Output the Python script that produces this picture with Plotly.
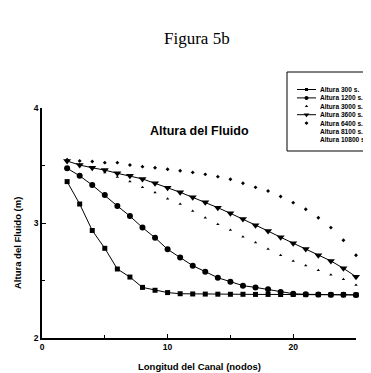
import plotly.graph_objects as go

nodes = list(range(2, 26))

h300 = [3.36, 3.165, 2.935, 2.78, 2.60, 2.53, 2.44, 2.415, 2.395, 2.385, 2.383, 2.382,
        2.381, 2.380, 2.380, 2.379, 2.379, 2.378, 2.378, 2.377, 2.377, 2.376, 2.376, 2.375]
h1200 = [3.476, 3.41, 3.33, 3.243, 3.148, 3.06, 2.96, 2.872, 2.771, 2.70, 2.629, 2.577,
         2.524, 2.49, 2.455, 2.44, 2.423, 2.40, 2.385, 2.38, 2.378, 2.377, 2.376, 2.375]
h3000 = [3.54, 3.51, 3.48, 3.44, 3.40, 3.36, 3.31, 3.265, 3.21, 3.165, 3.105, 3.046,
         2.99, 2.94, 2.88, 2.83, 2.775, 2.72, 2.67, 2.63, 2.59, 2.55, 2.51, 2.46]
h3600 = [3.539, 3.504, 3.48, 3.46, 3.432, 3.41, 3.383, 3.345, 3.307, 3.267, 3.223, 3.18,
         3.133, 3.084, 3.035, 2.98, 2.93, 2.876, 2.823, 2.774, 2.72, 2.67, 2.606, 2.533]
h6400 = [3.55, 3.54, 3.535, 3.525, 3.525, 3.505, 3.49, 3.48, 3.467, 3.455, 3.44, 3.423,
         3.403, 3.38, 3.345, 3.31, 3.278, 3.23, 3.177, 3.12, 3.046, 2.96, 2.85, 2.72]

names = ["Altura 300 s.", "Altura 1200 s.", "Altura 3000 s.", "Altura 3600 s.",
         "Altura 6400 s.", "Altura 8100 s.", "Altura 10800 s."]
x_ticks = [0, 10, 20]
y_ticks = [2, 3, 4]

# the page body has an 8px margin; figure fills the rest of the 371x373 window
OFF = 8
W, H = 371 - OFF, 373 - OFF
# plot area in screen pixels
L, R, T, B = 42, 356, 108, 338

def fx(p):
    return (p - OFF) / W

def fy(p):
    return 1 - (p - OFF) / H

styles = [
    dict(mode="lines+markers", symbol="square", size=5),
    dict(mode="lines+markers", symbol="circle", size=6),
    dict(mode="markers", symbol="triangle-up", size=3),
    dict(mode="lines+markers", symbol="triangle-down", size=7),
    dict(mode="markers", symbol="diamond", size=3),
]
series = [h300, h1200, h3000, h3600, h6400]

fig = go.Figure()
for vals, st, nm in zip(series, styles, names):
    fig.add_trace(go.Scatter(x=nodes, y=vals, name=nm, mode=st["mode"],
                             line=dict(color="black", width=1),
                             marker=dict(symbol=st["symbol"], size=st["size"], color="black"),
                             cliponaxis=False, showlegend=False))

# compact legend drawn on an overlay axis in screen-pixel units
ly0, ldy = 89.5, 8.4
for i, nm in enumerate(names):
    yy = ly0 + i * ldy
    if i < len(styles):
        st = styles[i]
        if "lines" in st["mode"]:
            fig.add_trace(go.Scatter(x=[297, 316], y=[yy, yy], mode="lines",
                                     line=dict(color="black", width=1),
                                     xaxis="x2", yaxis="y2", showlegend=False, hoverinfo="skip"))
        fig.add_trace(go.Scatter(x=[306.5], y=[yy], mode="markers",
                                 marker=dict(symbol=st["symbol"], size=max(3, st["size"] - 2), color="black"),
                                 xaxis="x2", yaxis="y2", showlegend=False, hoverinfo="skip"))

bold = dict(family="Liberation Sans, Arial", color="black", weight="bold")

def ann(text, x, y, font, **kw):
    d = dict(text=text, x=fx(x), y=fy(y), xref="paper", yref="paper", showarrow=False,
             xanchor="center", yanchor="middle", font=font)
    d.update(kw)
    return d

annotations = [
    ann("Figura 5b", 197, 38, dict(family="Liberation Serif, Times New Roman", size=17, color="black")),
    ann("Altura del Fluido", 199, 131, dict(size=12.5, **bold)),
    ann("Longitud del Canal (nodos)", 199, 366, dict(size=9.5, **bold)),
    ann("Altura del Fluido (m)", 17, 243, dict(size=9.5, **bold), textangle=-90),
]
for i, nm in enumerate(names):
    annotations.append(dict(text=nm, x=318, y=ly0 + i * ldy, xref="x2", yref="y2",
                            xanchor="left", yanchor="middle", showarrow=False,
                            font=dict(family="Liberation Sans Narrow, Liberation Sans", size=6.6,
                                      color="black", weight="bold")))

fig.update_layout(
    width=W, height=H,
    margin=dict(l=0, r=0, t=0, b=0, autoexpand=False),
    paper_bgcolor="white", plot_bgcolor="rgba(0,0,0,0)",
    showlegend=False,
    xaxis=dict(domain=[fx(L), fx(R)], range=[0, 25], tickvals=x_ticks, showline=True,
               linecolor="black", linewidth=1.5, ticks="inside", ticklen=4, tickcolor="black",
               showgrid=False, zeroline=False, tickfont=dict(size=8.5, **bold), automargin=False,
               minor=dict(dtick=5, ticks="inside", ticklen=3, tickcolor="black")),
    yaxis=dict(domain=[fy(B), fy(T)], range=[2, 4], tickvals=y_ticks, showline=True,
               linecolor="black", linewidth=1.5, ticks="inside", ticklen=4, tickcolor="black",
               showgrid=False, zeroline=False, tickfont=dict(size=8.5, **bold), automargin=False,
               minor=dict(dtick=0.5, ticks="inside", ticklen=3, tickcolor="black")),
    xaxis2=dict(domain=[0, 1], range=[OFF, OFF + W], visible=False, fixedrange=True),
    yaxis2=dict(domain=[0, 1], range=[OFF + H, OFF], visible=False, fixedrange=True),
    shapes=[dict(type="rect", xref="paper", yref="paper", x0=fx(287), x1=fx(372),
                 y0=fy(151), y1=fy(72), line=dict(color="black", width=1), layer="below")],
    annotations=annotations,
)

fig.write_html("out.html")
